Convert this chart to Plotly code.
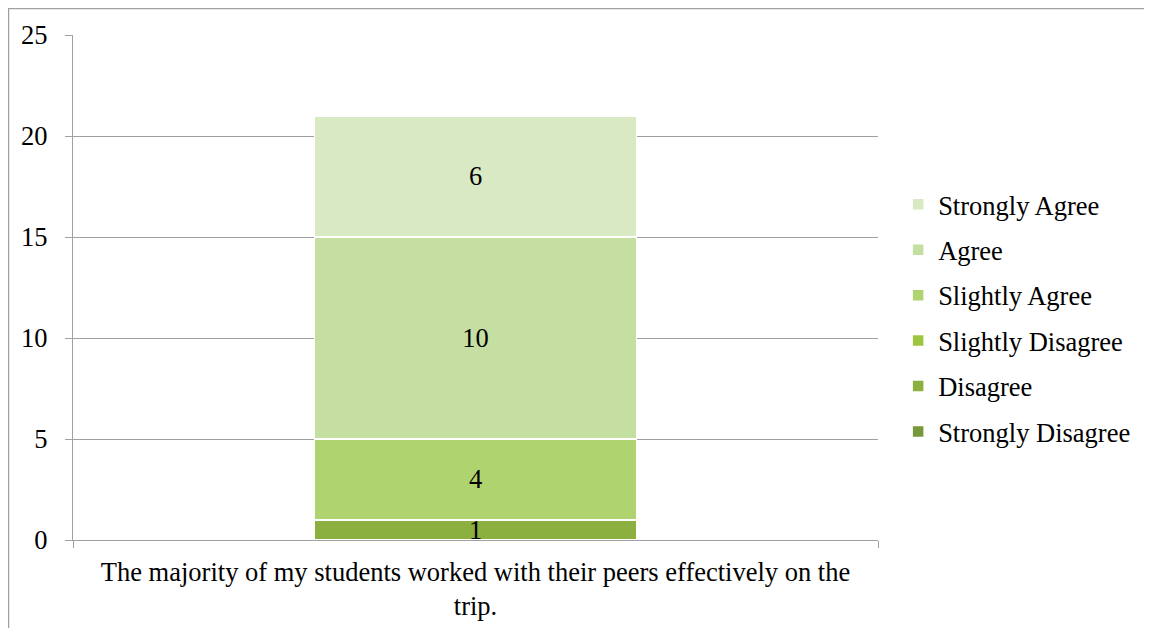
import plotly.graph_objects as go

categories = ["The majority of my students worked with their peers effectively on the<br>trip."]
series_names = ["Strongly Disagree", "Disagree", "Slightly Disagree", "Slightly Agree", "Agree", "Strongly Agree"]
series_values = [[0], [1], [0], [4], [10], [6]]
colors = ["#76983a", "#8bb040", "#9dc53f", "#afd36f", "#c5dfa3", "#d8e9c4"]
y_ticks = [0, 5, 10, 15, 20, 25]

FONT = "Liberation Serif"
FS = 26.5
fig = go.Figure()
for i, (name, vals, col) in enumerate(zip(series_names, series_values, colors)):
    fig.add_trace(go.Bar(
        x=categories, y=vals, name=name,
        marker=dict(color=col, line=dict(color="white", width=1.5)),
        text=[str(v) if v else "" for v in vals],
        textposition="inside", insidetextanchor="middle", textangle=0,
        textfont=dict(family=FONT, size=FS, color="black"),
        width=0.4, legendgroup=name, legendrank=100 - i,
    ))

fig.update_layout(
    barmode="stack",
    width=1144, height=620,
    margin=dict(l=65, r=274, t=27, b=88),
    paper_bgcolor="white", plot_bgcolor="white",
    font=dict(family=FONT, size=FS, color="black"),
    uniformtext=dict(minsize=FS, mode="show"),
    showlegend=True,
    legend=dict(traceorder="grouped", tracegroupgap=8,
                x=1.025, y=0.4396, xanchor="left", yanchor="middle",
                font=dict(family=FONT, size=FS), itemwidth=30),
    xaxis=dict(showline=True, linecolor="#a0a0a0", linewidth=1.3,
               ticks="outside", tickson="boundaries", ticklen=7, tickcolor="#a0a0a0",
               range=[-0.5, 0.5], showgrid=False, automargin=False, ticklabelstandoff=8),
    yaxis=dict(range=[0, 25], tickvals=y_ticks, showline=True, linecolor="#a0a0a0", linewidth=1.3,
               ticks="outside", ticklen=7, tickcolor="#a0a0a0",
               showgrid=True, gridcolor="#a0a0a0", gridwidth=1.3, zeroline=False,
               ticklabelstandoff=12, automargin=False),
    shapes=[dict(type="rect", xref="paper", yref="paper",
                 x0=(0.5 - 65) / 805, x1=2.0, y0=-1.0, y1=(505 + 27 - 0.5) / 505,
                 line=dict(color="#a0a0a0", width=1.5), fillcolor="rgba(0,0,0,0)", layer="below")],
)

fig.write_html("out.html")
